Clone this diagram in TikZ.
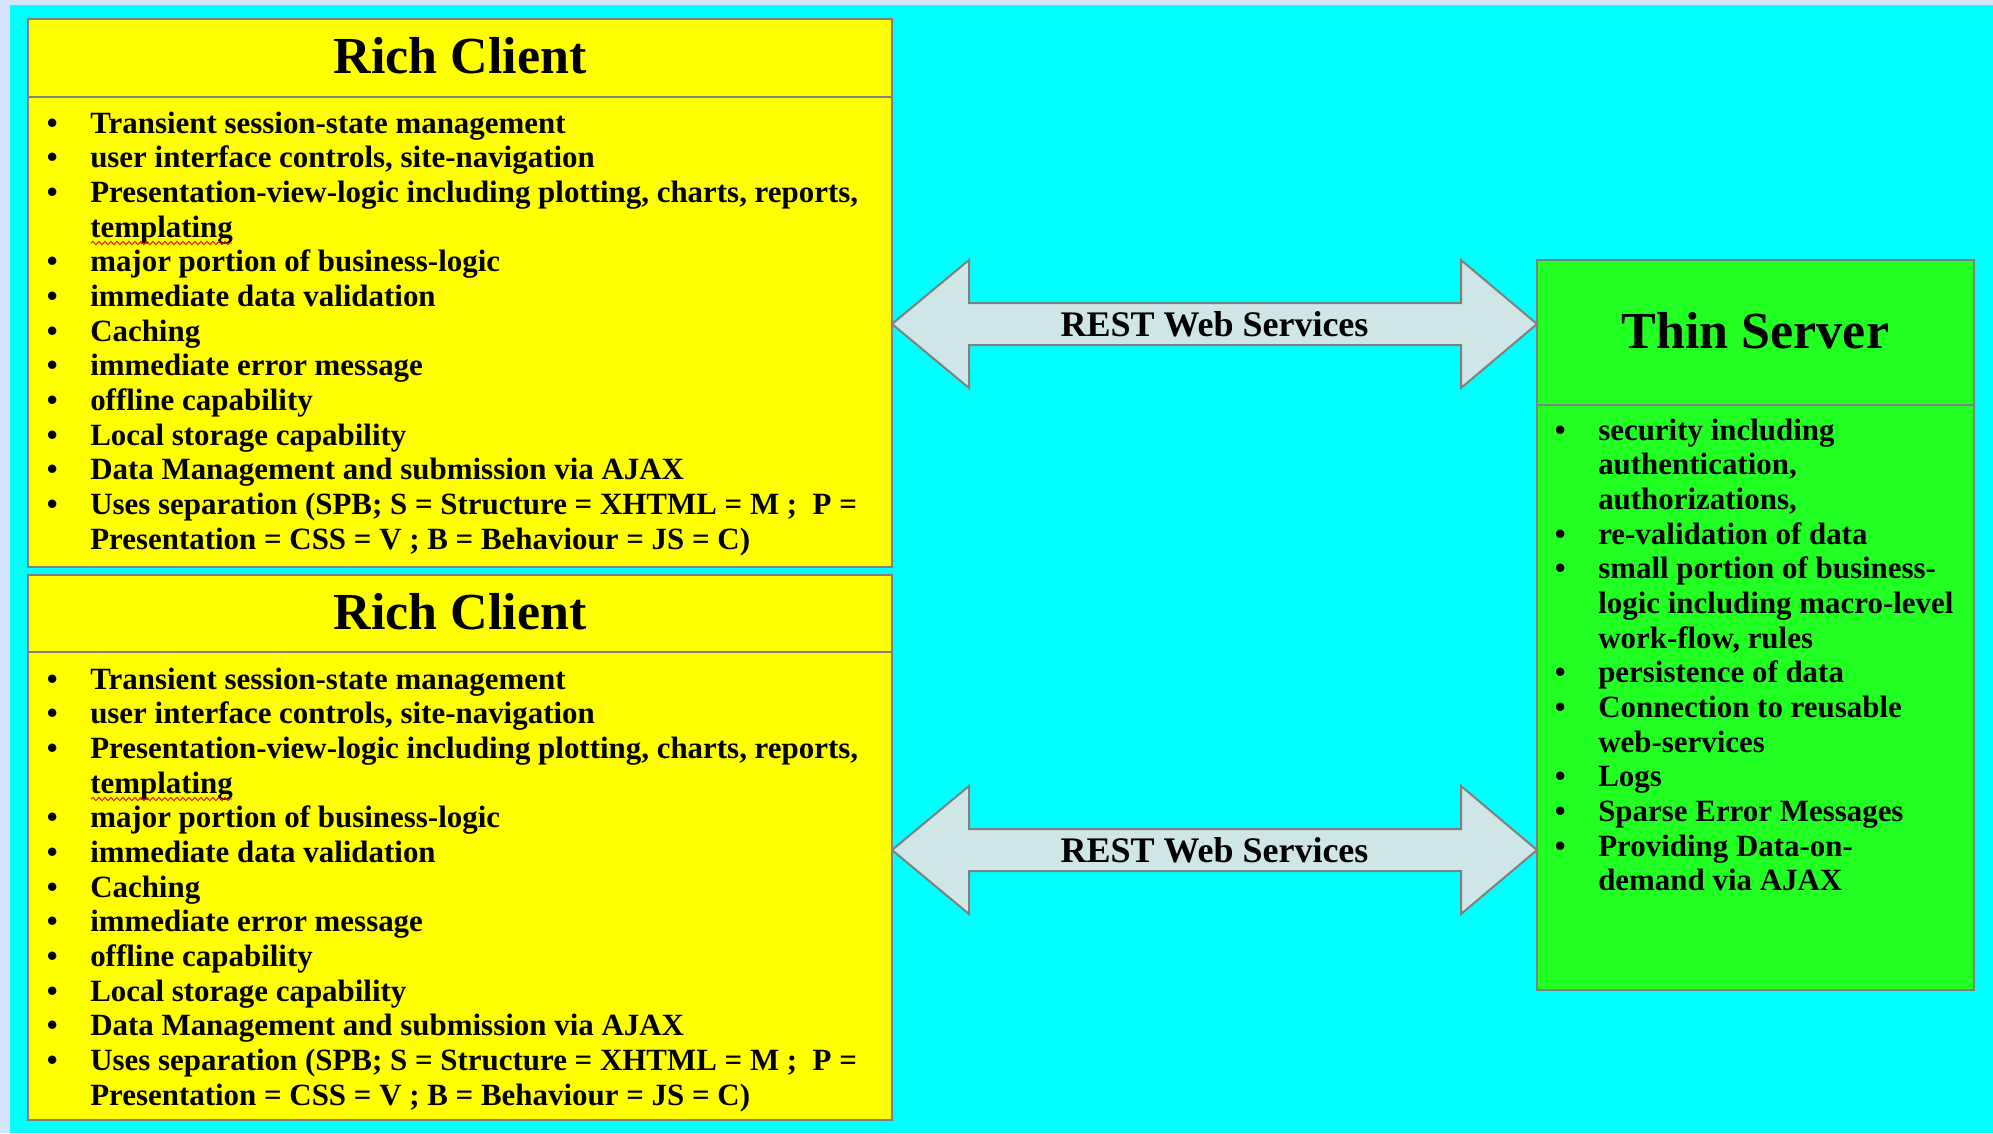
\documentclass[tikz,border=0pt]{standalone}
\usepackage{fontspec}
\setmainfont{Liberation Serif}
\usetikzlibrary{calc,decorations.pathmorphing}
\definecolor{outerblue}{HTML}{D4E4F6}
\definecolor{bgcyan}{HTML}{00FFFF}
\definecolor{rcyellow}{HTML}{FFFF00}
\definecolor{tsgreen}{HTML}{22FF22}
\definecolor{arrowfill}{HTML}{CFE6E6}
\definecolor{edgegray}{HTML}{808080}
\newcommand{\bul}{\llap{\textbullet\hspace{24.5pt}}}
\newcommand{\lineitem}[1]{\hbox{#1}}
\tikzset{
  boxbase/.style={draw=edgegray, line width=1.5pt, inner sep=0pt, outer sep=0pt},
  rcbox/.style={boxbase, fill=rcyellow, minimum width=648pt},
  tsbox/.style={boxbase, fill=tsgreen, minimum width=327.75pt, minimum height=547.5pt},
  sepline/.style={draw=edgegray, line width=1.5pt},
  titletxt/.style={font=\fontsize{39}{44}\selectfont\bfseries, inner sep=0pt, anchor=base},
  listtxt/.style={font=\fontsize{23.2}{26}\selectfont\bfseries, inner sep=0pt, anchor=base west},
  restlbl/.style={font=\fontsize{27}{30}\selectfont\bfseries, inner sep=0pt},
  bigarrow/.style={draw=edgegray, line width=1.5pt, fill=arrowfill, line join=miter},
  spellmark/.style={draw=red, line width=0.7pt, decorate, decoration={snake, segment length=4.5pt, amplitude=1.2pt}}
}
\begin{document}
\begin{tikzpicture}[x=0.75pt,y=-0.75pt]
\path[use as bounding box] (0,0) rectangle (1993,1133);
\fill[outerblue] (0,0) rectangle (1993,1133);
\fill[bgcyan] (10,5) rectangle (1993,1133);

% boxes
\node[rcbox, minimum height=411pt] (rc1) at (460,293) {};
\node[rcbox, minimum height=408.75pt] (rc2) at (460,847.5) {};
\node[tsbox] (ts) at (1755.5,625) {};

\draw[sepline] (rc1.west |- 0,97) -- (rc1.east |- 0,97);
\draw[sepline] (rc2.west |- 0,652) -- (rc2.east |- 0,652);
\draw[sepline] (ts.west |- 0,405) -- (ts.east |- 0,405);

% titles
\node[titletxt] (t1) at (460,73) {Rich Client};
\node[titletxt] (t2) at (460,629) {Rich Client};
\node[titletxt] (t3) at (1755.5,348) {Thin Server};

% lists
\newcommand{\richlist}{\vtop{\baselineskip=26pt\lineskiplimit=-100pt
\lineitem{\bul Transient session-state management}
\lineitem{\bul user interface controls, site-navigation}
\lineitem{\bul Presentation-view-logic including plotting, charts, reports,}
\lineitem{templating}
\lineitem{\bul major portion of business-logic}
\lineitem{\bul immediate data validation}
\lineitem{\bul Caching}
\lineitem{\bul immediate error message}
\lineitem{\bul offline capability}
\lineitem{\bul Local storage capability}
\lineitem{\bul Data Management and submission via AJAX}
\lineitem{\bul Uses separation (SPB; S = Structure = XHTML = M ;\ \ P =}
\lineitem{Presentation = CSS = V ; B = Behaviour = JS = C)}}}
\node[listtxt] (l1) at (90,133) {\richlist};
\node[listtxt] (l2) at (90,689) {\richlist};
\node[listtxt] (l3) at (1598,440) {\vtop{\baselineskip=26pt\lineskiplimit=-100pt
\lineitem{\bul security including}
\lineitem{authentication,}
\lineitem{authorizations,}
\lineitem{\bul re-validation of data}
\lineitem{\bul small portion of business-}
\lineitem{logic including macro-level}
\lineitem{work-flow, rules}
\lineitem{\bul persistence of data}
\lineitem{\bul Connection to reusable}
\lineitem{web-services}
\lineitem{\bul Logs}
\lineitem{\bul Sparse Error Messages}
\lineitem{\bul Providing Data-on-}
\lineitem{demand via AJAX}}};

% spell-check marks
\draw[spellmark] (91,243) -- (232,243);
\draw[spellmark] (91,799) -- (232,799);

% arrows
\coordinate (aL1) at (rc1.east |- 0,324);
\coordinate (aR1) at (ts.west |- 0,324);
\coordinate (aL2) at (rc2.east |- 0,850);
\coordinate (aR2) at (ts.west |- 0,850);
\foreach \L/\R in {aL1/aR1, aL2/aR2}{
  \draw[bigarrow] (\L) -- ($(\L)+(77,-64)$) -- ($(\L)+(77,-21)$) -- ($(\R)+(-76,-21)$)
    -- ($(\R)+(-76,-64)$) -- (\R) -- ($(\R)+(-76,64)$) -- ($(\R)+(-76,21)$)
    -- ($(\L)+(77,21)$) -- ($(\L)+(77,64)$) -- cycle;
}
\node[restlbl] (rest1) at ($(aL1)!0.5!(aR1)$) {REST Web Services};
\node[restlbl] (rest2) at ($(aL2)!0.5!(aR2)$) {REST Web Services};
\end{tikzpicture}
\end{document}
